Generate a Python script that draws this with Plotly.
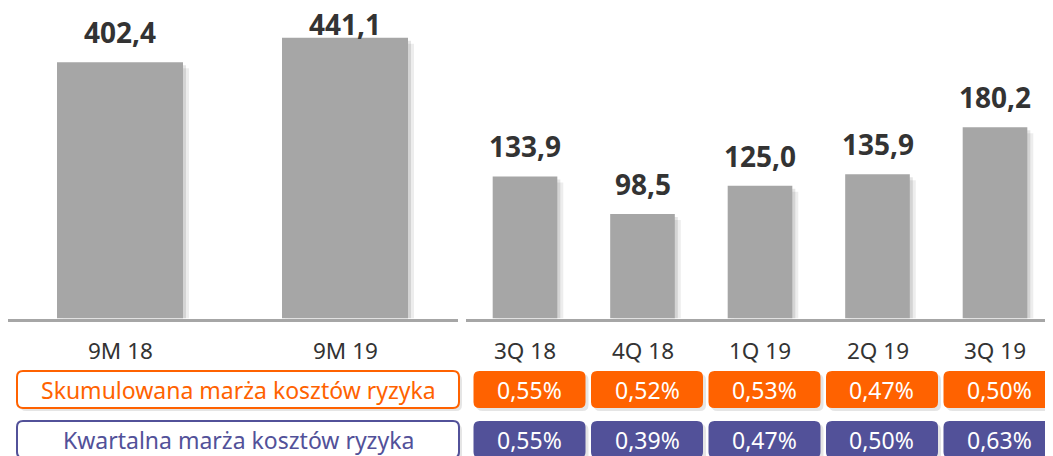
import plotly.graph_objects as go

# ---- data ----
cum_cats = ["9M 18", "9M 19"]
cum_vals = [402.4, 441.1]
q_cats = ["3Q 18", "4Q 18", "1Q 19", "2Q 19", "3Q 19"]
q_vals = [133.9, 98.5, 125.0, 135.9, 180.2]
row1_label = "Skumulowana marża kosztów ryzyka"
row1_vals = ["0,55%", "0,52%", "0,53%", "0,47%", "0,50%"]
row2_label = "Kwartalna marża kosztów ryzyka"
row2_vals = ["0,55%", "0,39%", "0,47%", "0,50%", "0,63%"]

# ---- layout geometry (page pixels; page body has an 8px margin) ----
PW, PH = 1053, 456
OFF = 8
FW, FH = PW - OFF, PH - OFF
GREY = "#A6A6A6"
TXT = "#333333"
ORANGE = "#FF6200"
PURPLE = "#525199"
FONT = "Noto Sans"

def px(x):
    return (x - OFF) / FW

def py(y):
    return 1 - (y - OFF) / FH

BASE = 318.5          # baseline (page px)
TOP = 8
L_MAX, R_MAX = 487.7, 292.6
L_SCALE = (BASE - TOP) / L_MAX
R_SCALE = (BASE - TOP) / R_MAX
L_SP, R_SP = 225.0, 117.5   # px per category

def fmt(v):
    return f"{v:.1f}".replace(".", ",")

fig = go.Figure()
xl = list(range(len(cum_cats)))
xq = list(range(len(q_cats)))

# soft shadows
for k, a in [(6, 0.07), (3, 0.10)]:
    fig.add_trace(go.Bar(x=[i + k / L_SP for i in xl], y=[v - k / L_SCALE for v in cum_vals],
                         xaxis="x", yaxis="y", marker=dict(color=f"rgba(0,0,0,{a})", line_width=0),
                         width=0.56, hoverinfo="skip"))
    fig.add_trace(go.Bar(x=[i + k / R_SP for i in xq], y=[v - k / R_SCALE for v in q_vals],
                         xaxis="x2", yaxis="y2", marker=dict(color=f"rgba(0,0,0,{a})", line_width=0),
                         width=0.55, hoverinfo="skip"))

fig.add_trace(go.Bar(x=xl, y=cum_vals, xaxis="x", yaxis="y",
                     marker=dict(color=GREY, line_width=0), width=0.56, hoverinfo="skip"))
fig.add_trace(go.Bar(x=xq, y=q_vals, xaxis="x2", yaxis="y2",
                     marker=dict(color=GREY, line_width=0), width=0.55, hoverinfo="skip"))

ydom = [py(BASE), 1]
fig.update_layout(
    width=FW, height=FH, margin=dict(l=0, r=0, t=0, b=0, autoexpand=False),
    paper_bgcolor="white", plot_bgcolor="rgba(0,0,0,0)", showlegend=False,
    barmode="overlay",
    xaxis=dict(domain=[px(8), px(458)], range=[(8 - 120) / L_SP, (458 - 120) / L_SP],
               showline=True, linecolor=GREY, linewidth=3, showticklabels=False,
               showgrid=False, zeroline=False, ticks=""),
    yaxis=dict(domain=ydom, range=[0, L_MAX], visible=False),
    xaxis2=dict(domain=[px(466), 1], range=[(466 - 525) / R_SP, (PW - 525) / R_SP],
                showline=True, linecolor=GREY, linewidth=3, showticklabels=False,
                showgrid=False, zeroline=False, ticks=""),
    yaxis2=dict(domain=ydom, range=[0, R_MAX], visible=False, anchor="x2"),
)

ann = []
# value labels above bars
for vals, xr, scale in [(cum_vals, "x", L_SCALE), (q_vals, "x2", R_SCALE)]:
    for i, v in enumerate(vals):
        top_px = BASE - v * scale
        digit_bottom = max(top_px - 20, 34)
        ann.append(dict(x=i, y=py(digit_bottom - 10), xref=xr, yref="paper", text=fmt(v),
                        showarrow=False, xanchor="center", yanchor="middle", borderpad=0,
                        font=dict(family=FONT, size=28, color=TXT, weight="bold")))
# category labels
for cats, xr in [(cum_cats, "x"), (q_cats, "x2")]:
    for i, c in enumerate(cats):
        ann.append(dict(x=i, y=py(350), xref=xr, yref="paper", text=c, showarrow=False,
                        xanchor="center", yanchor="middle",
                        font=dict(family=FONT, size=22.5, color=TXT)))

def rrect(x0, x1, y0, y1, rx, ry):
    return (f"M {x0+rx},{y0} L {x1-rx},{y0} Q {x1},{y0} {x1},{y0+ry} "
            f"L {x1},{y1-ry} Q {x1},{y1} {x1-rx},{y1} L {x0+rx},{y1} "
            f"Q {x0},{y1} {x0},{y1-ry} L {x0},{y0+ry} Q {x0},{y0} {x0+rx},{y0} Z")

shapes = []
rows = [(row1_label, row1_vals, ORANGE, 371, 408), (row2_label, row2_vals, PURPLE, 421, 458)]
R = 6
for label, vals, col, top, bot in rows:
    # label box (shadow + outline)
    shapes.append(dict(type="path", xref="paper", yref="paper",
                       path=rrect(px(20), px(462), py(bot + 3), py(top + 3), R / FW, R / FH),
                       line=dict(width=0), fillcolor="rgba(0,0,0,0.10)", layer="above"))
    shapes.append(dict(type="path", xref="paper", yref="paper",
                       path=rrect(px(17), px(459), py(bot), py(top), R / FW, R / FH),
                       line=dict(color=col, width=2), fillcolor="white", layer="above"))
    ann.append(dict(x=px(238), y=py((top + bot) / 2 if bot < PH else 440), xref="paper",
                    yref="paper", text=label, xanchor="center", yanchor="middle",
                    showarrow=False, font=dict(family=FONT, size=23, color=col)))
    # value boxes
    for i, v in enumerate(vals):
        cx = 529.5 + i * R_SP
        shapes.append(dict(type="path", xref="paper", yref="paper",
                           path=rrect(px(cx - 56 + 3), px(cx + 56 + 3), py(bot + 3), py(top + 3),
                                      R / FW, R / FH),
                           line=dict(width=0), fillcolor="rgba(0,0,0,0.10)", layer="above"))
        shapes.append(dict(type="path", xref="paper", yref="paper",
                           path=rrect(px(cx - 56), px(cx + 56), py(bot), py(top), R / FW, R / FH),
                           line=dict(width=0), fillcolor=col, layer="above"))
        ann.append(dict(x=px(cx), y=py((top + bot) / 2 if bot < PH else 440),
                        xref="paper", yref="paper", text=v, showarrow=False,
                        xanchor="center", yanchor="middle",
                        font=dict(family=FONT, size=23, color="white")))

fig.update_layout(shapes=shapes, annotations=ann)
fig.write_html("out.html")
